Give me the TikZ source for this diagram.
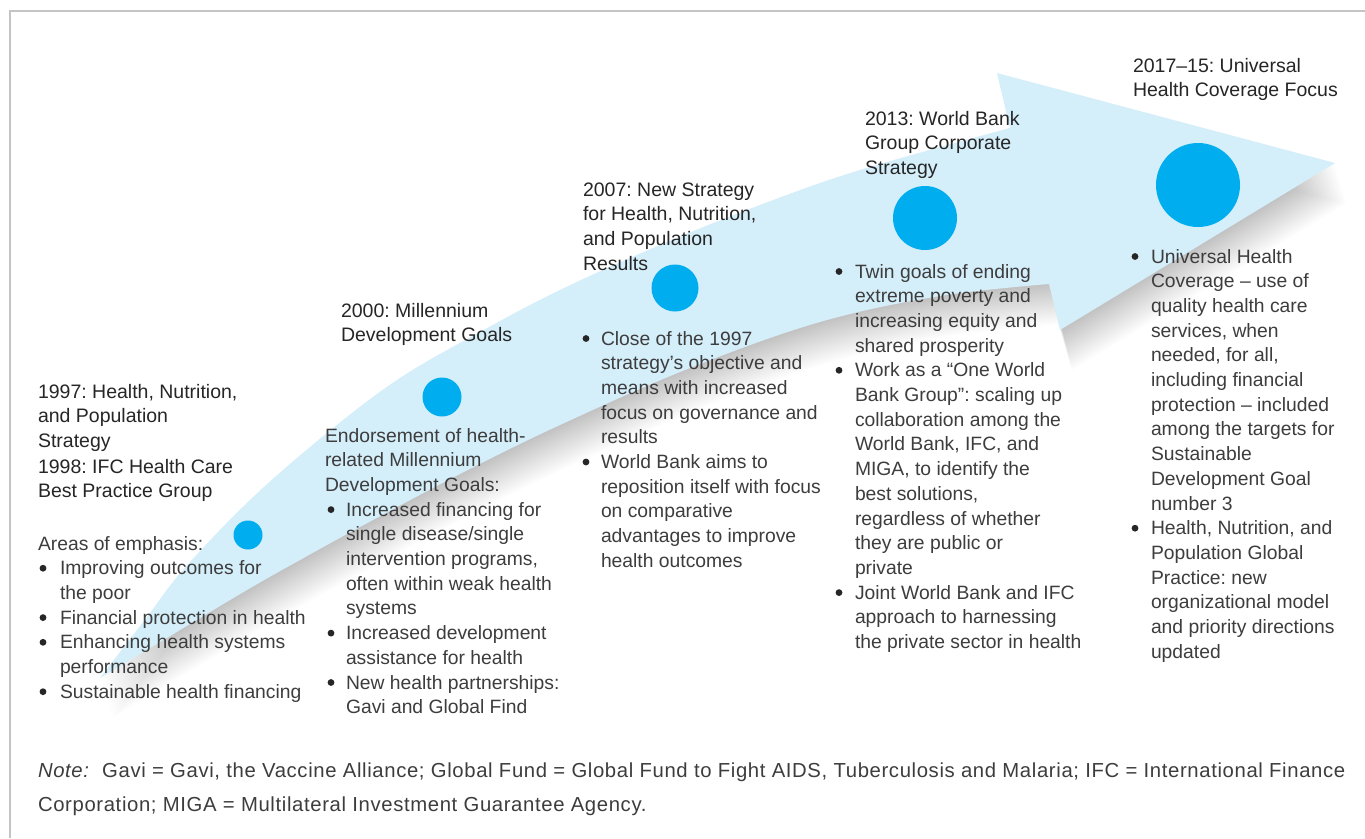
\documentclass[tikz,border=0pt]{standalone}
\usepackage{fontspec}
\setmainfont{Liberation Sans}
\newfontfamily\notefont[LetterSpace=3.1]{Liberation Sans}
\frenchspacing
\definecolor{headc}{HTML}{262626}
\definecolor{bodyc}{HTML}{3D3D3D}
\definecolor{arwc}{HTML}{D4EEFA}
\definecolor{dotc}{HTML}{00AEEF}
\definecolor{framec}{HTML}{C4C4C4}
\newcommand\hfnt{\fontsize{19.5}{24.7}\selectfont}
\newcommand\bfnt{\fontsize{19.3}{24.7}\selectfont}
\newcommand\nfnt{\fontsize{20.3}{24.7}\selectfont}
\newcommand\arwpath{plot[smooth, tension=0.6] coordinates {(100,678) (170,636) (247,590) (300,560) (360,527) (460,474) (560,425) (690,368) (820,322) (940,296) (1049,284)} -- (1060,330) -- (1335,163) -- (997,73) -- (1010,128) -- plot[smooth, tension=0.6] coordinates {(1010,128) (860,170) (760,205) (660,245) (560,290) (480,332) (400,378) (327,433) (250,500) (183,570) (147,617) (100,678)} -- cycle}
\tikzset{
  hd/.style={anchor=north west, inner sep=0pt, outer sep=0pt, align=left, font=\hfnt, text=headc, yshift=17.29pt},
  bd/.style={hd, font=\bfnt, text=bodyc},
  nt/.style={hd, font=\notefont\nfnt, text=bodyc},
  bdot/.style={circle, fill=headc, inner sep=0pt, minimum size=6.8pt, yshift=6.5pt},
  ccirc/.style={circle, fill=dotc, inner sep=0pt, minimum size=#1},
}
\begin{document}
\begin{tikzpicture}[x=1pt, y=-1pt]
\useasboundingbox (0,0) rectangle (1365,838);
\fill[white] (0,0) rectangle (1365,838);
% frame
\draw[framec, line width=2pt] (10,838) -- (10,11) -- (1365,11);
% arrow shadow
\foreach \k in {1,...,20} {
  \fill[black, opacity=0.012, shift={(0.6*\k,2*\k)}] \arwpath;
}
% arrow
\fill[arwc] \arwpath;
% circles
\node[ccirc=29pt] (c1) at (248,535) {};
\node[ccirc=39pt] (c2) at (442,397) {};
\node[ccirc=47pt] (c3) at (675,288) {};
\node[ccirc=64pt] (c4) at (925,218) {};
\node[ccirc=84pt] (c5) at (1198,185) {};
% block 1
\node[hd] (h1) at (38,398) {\strut 1997: Health, Nutrition,\\and Population\\Strategy};
\node[hd] (h1b) at (38,473) {\strut 1998: IFC Health Care\\Best Practice Group};
\node[bd] (t1) at (38,550) {\strut Areas of emphasis:};
\node[bdot] (b1a) at (43,574.7) {};
\node[bd] (t1a) at (60,574.7) {\strut Improving outcomes for\\the poor};
\node[bdot] (b1b) at (43,624.1) {};
\node[bd] (t1b) at (60,624.1) {\strut Financial protection in health};
\node[bdot] (b1c) at (43,648.8) {};
\node[bd] (t1c) at (60,648.8) {\strut Enhancing health systems\\performance};
\node[bdot] (b1d) at (43,698.2) {};
\node[bd] (t1d) at (60,698.2) {\strut Sustainable health financing};
% block 2
\node[hd] (h2) at (341,317) {\strut 2000: Millennium\\Development Goals};
\node[bd] (t2) at (325,442) {\strut Endorsement of health-\\related Millennium\\Development Goals:};
\node[bdot] (b2a) at (331,516.1) {};
\node[bd] (t2a) at (346,516.1) {\strut Increased financing for\\single disease/single\\intervention programs,\\often within weak health\\systems};
\node[bdot] (b2b) at (331,639.6) {};
\node[bd] (t2b) at (346,639.6) {\strut Increased development\\assistance for health};
\node[bdot] (b2c) at (331,689) {};
\node[bd] (t2c) at (346,689) {\strut New health partnerships:\\Gavi and Global Find};
% block 3
\node[hd] (h3) at (583,196) {\strut 2007: New Strategy\\for Health, Nutrition,\\and Population\\Results};
\node[bdot] (b3a) at (586,345) {};
\node[bd] (t3a) at (601,345) {\strut Close of the 1997\\strategy’s objective and\\means with increased\\focus on governance and\\results};
\node[bdot] (b3b) at (586,468.5) {};
\node[bd] (t3b) at (601,468.5) {\strut World Bank aims to\\reposition itself with focus\\on comparative\\advantages to improve\\health outcomes};
% block 4
\node[hd] (h4) at (865,125) {\strut 2013: World Bank\\Group Corporate\\Strategy};
\node[bdot] (b4a) at (839,278) {};
\node[bd] (t4a) at (855,278) {\strut Twin goals of ending\\extreme poverty and\\increasing equity and\\shared prosperity};
\node[bdot] (b4b) at (839,376.8) {};
\node[bd] (t4b) at (855,376.8) {\strut Work as a “One World\\Bank Group”: scaling up\\collaboration among the\\World Bank, IFC, and\\MIGA, to identify the\\best solutions,\\regardless of whether\\they are public or\\private};
\node[bdot] (b4c) at (839,599.1) {};
\node[bd] (t4c) at (855,599.1) {\strut Joint World Bank and IFC\\approach to harnessing\\the private sector in health};
% block 5
\node[hd] (h5) at (1133,72) {\strut 2017–15: Universal\\Health Coverage Focus};
\node[bdot] (b5a) at (1135,263) {};
\node[bd] (t5a) at (1151,263) {\strut Universal Health\\Coverage – use of\\quality health care\\services, when\\needed, for all,\\including financial\\protection – included\\among the targets for\\Sustainable\\Development Goal\\number 3};
\node[bdot] (b5b) at (1135,534.7) {};
\node[bd] (t5b) at (1151,534.7) {\strut Health, Nutrition, and\\Population Global\\Practice: new\\organizational model\\and priority directions\\updated};
% note
\node[nt] (n1) at (38,777) {\strut\textit{Note:}\ \ Gavi = Gavi, the Vaccine Alliance; Global Fund = Global Fund to Fight AIDS, Tuberculosis and Malaria; IFC = International Finance};
\node[nt] (n2) at (38,811) {\strut Corporation; MIGA = Multilateral Investment Guarantee Agency.};
\end{tikzpicture}
\end{document}
